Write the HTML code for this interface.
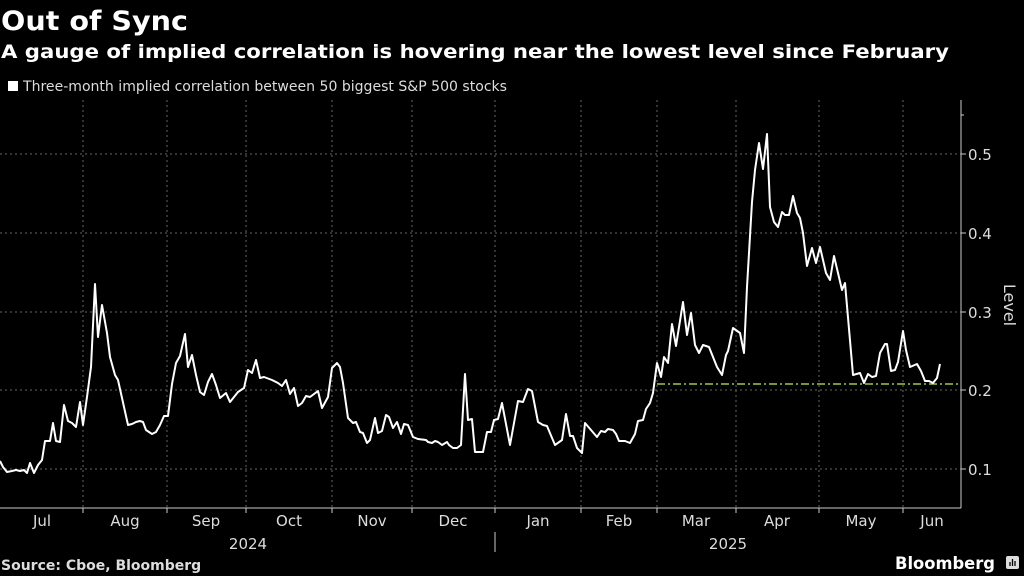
<!DOCTYPE html>
<html><head><meta charset="utf-8"><style>
html,body{margin:0;padding:0;background:#000;}
svg{display:block;font-family:"DejaVu Sans","Liberation Sans",sans-serif;}
</style></head><body>
<svg width="1024" height="576" viewBox="0 0 1024 576" xmlns="http://www.w3.org/2000/svg">
<rect width="1024" height="576" fill="#000"/>
<text x="1" y="30" font-size="27" font-weight="bold" fill="#fff" textLength="187" lengthAdjust="spacingAndGlyphs">Out of Sync</text>
<text x="1" y="58" font-size="19" font-weight="bold" fill="#fff" textLength="948" lengthAdjust="spacingAndGlyphs">A gauge of implied correlation is hovering near the lowest level since February</text>
<rect x="8" y="81" width="10" height="10" fill="#fff"/>
<text x="23" y="91" font-size="14" fill="#ddd" textLength="484" lengthAdjust="spacingAndGlyphs">Three-month implied correlation between 50 biggest S&amp;P 500 stocks</text>
<g stroke="#666" stroke-width="1" stroke-dasharray="2,3">
<line x1="0" y1="154" x2="961" y2="154"/><line x1="0" y1="233" x2="961" y2="233"/>
<line x1="0" y1="312" x2="961" y2="312"/><line x1="0" y1="390" x2="961" y2="390"/>
<line x1="0" y1="469" x2="961" y2="469"/>
<line x1="83" y1="100" x2="83" y2="508"/><line x1="167" y1="100" x2="167" y2="508"/>
<line x1="246" y1="100" x2="246" y2="508"/><line x1="332" y1="100" x2="332" y2="508"/>
<line x1="412" y1="100" x2="412" y2="508"/><line x1="495" y1="100" x2="495" y2="508"/>
<line x1="581" y1="100" x2="581" y2="508"/><line x1="657" y1="100" x2="657" y2="508"/>
<line x1="736" y1="100" x2="736" y2="508"/><line x1="819" y1="100" x2="819" y2="508"/>
<line x1="903" y1="100" x2="903" y2="508"/>
</g>
<g stroke="#ccc" stroke-width="1">
<line x1="961" y1="100" x2="961" y2="508"/>
<line x1="0" y1="508" x2="961" y2="508"/>
<line x1="83" y1="508" x2="83" y2="513"/><line x1="167" y1="508" x2="167" y2="513"/>
<line x1="246" y1="508" x2="246" y2="513"/><line x1="332" y1="508" x2="332" y2="513"/>
<line x1="412" y1="508" x2="412" y2="513"/><line x1="495" y1="508" x2="495" y2="513"/>
<line x1="581" y1="508" x2="581" y2="513"/><line x1="657" y1="508" x2="657" y2="513"/>
<line x1="736" y1="508" x2="736" y2="513"/><line x1="819" y1="508" x2="819" y2="513"/>
<line x1="903" y1="508" x2="903" y2="513"/>
<line x1="961" y1="154" x2="966" y2="154"/><line x1="961" y1="233" x2="966" y2="233"/>
<line x1="961" y1="312" x2="966" y2="312"/><line x1="961" y1="390" x2="966" y2="390"/>
<line x1="961" y1="469" x2="966" y2="469"/><line x1="961" y1="115" x2="964" y2="115"/>
<line x1="495" y1="532" x2="495" y2="552"/>
</g>
<line x1="657" y1="384" x2="961" y2="384" stroke="#9cc84a" stroke-width="1.5" stroke-dasharray="8,3,2,3"/>
<polyline fill="none" stroke="#fff" stroke-width="2" stroke-linejoin="round" points="0,461 3,467 7,472 12,471 16,470 20,471 24,470 27,473 30,463 34,473 38,465 42,460 45,441 50,441 53,423 56,441 60,442 64,405 68,421 72,423 76,427 80,402 83,425 87,397 91,367 95,284 98,337 102,305 107,333 110,357 115,375 118,380 122,398 128,425 132,424 136,422 140,421 143,422 146,430 152,434 156,432 160,425 164,416 168,416 172,384 176,363 180,356 185,334 188,367 192,355 196,375 200,392 204,395 208,382 212,374 216,385 220,398 226,393 230,402 234,397 238,392 244,388 248,370 252,373 256,360 260,378 264,377 272,380 278,383 282,386 286,380 290,394 294,388 298,406 302,403 306,396 310,397 314,394 318,391 322,408 328,397 332,368 337,363 340,367 343,383 348,418 353,423 356,422 360,432 363,433 367,443 370,440 375,418 378,433 382,431 386,415 389,417 393,428 397,422 401,434 404,424 408,425 413,437 418,439 426,440 428,442 432,443 435,441 438,442 442,445 447,442 449,445 453,448 457,448 461,445 465,374 468,420 472,419 475,452 483,452 487,432 491,432 494,420 498,419 502,403 510,445 518,401 523,402 528,389 532,391 538,422 543,425 547,426 555,445 562,440 566,414 570,436 573,436 577,448 582,453 585,423 591,430 597,437 601,431 605,432 608,429 613,430 616,434 619,441 625,441 630,443 635,434 638,421 643,420 646,409 650,403 653,393 657,363 661,377 664,357 668,363 672,324 676,346 683,302 687,335 691,313 695,345 699,353 703,345 709,347 717,367 722,375 726,355 728,351 733,328 740,333 744,353 747,287 752,202 755,170 759,143 763,169 767,134 770,207 774,222 778,227 782,212 785,215 789,215 793,196 797,213 800,218 803,233 807,266 812,248 816,263 820,247 826,273 830,280 834,256 842,290 845,283 853,375 860,373 864,383 868,374 872,377 876,376 880,353 885,344 887,344 891,371 895,370 898,362 903,331 906,350 910,367 917,364 921,371 925,381 929,381 933,383 937,378 940,364"/>
<g font-size="15" fill="#ddd">
<text x="968" y="160">0.5</text><text x="968" y="239">0.4</text>
<text x="968" y="318">0.3</text><text x="968" y="396">0.2</text>
<text x="968" y="475">0.1</text>
</g>
<text transform="translate(1004,305) rotate(90)" font-size="16" fill="#ddd" text-anchor="middle">Level</text>
<g font-size="15" fill="#ddd" text-anchor="middle">
<text x="42" y="526">Jul</text><text x="125" y="526">Aug</text><text x="206" y="526">Sep</text>
<text x="289" y="526">Oct</text><text x="372" y="526">Nov</text><text x="453" y="526">Dec</text>
<text x="538" y="526">Jan</text><text x="619" y="526">Feb</text><text x="696" y="526">Mar</text>
<text x="777" y="526">Apr</text><text x="861" y="526">May</text><text x="932" y="526">Jun</text>
<text x="248" y="549">2024</text><text x="728" y="549">2025</text>
</g>
<text x="1" y="570" font-size="14" font-weight="bold" fill="#ddd">Source: Cboe, Bloomberg</text>
<text x="895" y="569" font-size="17" font-weight="bold" fill="#fff" textLength="100" lengthAdjust="spacingAndGlyphs">Bloomberg</text>
<rect x="1006" y="556" width="13" height="13" rx="2" fill="#ddd"/>
<g stroke="#000" stroke-width="1.3"><line x1="1010" y1="566" x2="1010" y2="562"/><line x1="1012.5" y1="566" x2="1012.5" y2="559"/><line x1="1015" y1="566" x2="1015" y2="561"/></g>
</svg>
</body></html>
